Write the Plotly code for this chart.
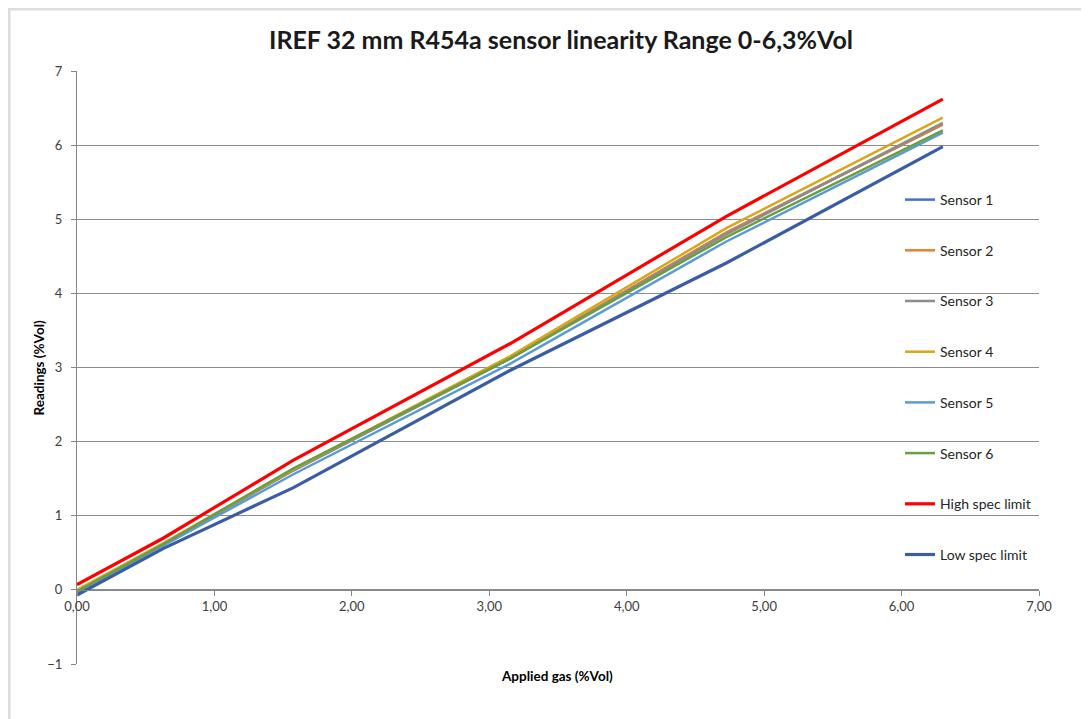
import plotly.graph_objects as go

applied = [0.0, 0.63, 1.575, 3.15, 4.725, 6.3]

sensor1 = [-0.03, 0.62, 1.62, 3.12, 4.82, 6.28]
sensor2 = [-0.02, 0.62, 1.62, 3.12, 4.82, 6.28]
sensor3 = [-0.03, 0.62, 1.61, 3.12, 4.80, 6.30]
sensor4 = [0.00, 0.63, 1.63, 3.15, 4.88, 6.37]
sensor5 = [-0.05, 0.60, 1.56, 3.05, 4.70, 6.17]
sensor6 = [-0.02, 0.62, 1.64, 3.12, 4.76, 6.20]
high_spec = [0.07, 0.70, 1.75, 3.32, 5.04, 6.62]
low_spec = [-0.07, 0.56, 1.38, 2.96, 4.41, 5.98]

names = ["Sensor 1", "Sensor 2", "Sensor 3", "Sensor 4", "Sensor 5", "Sensor 6",
         "High spec limit", "Low spec limit"]
series = [sensor1, sensor2, sensor3, sensor4, sensor5, sensor6, high_spec, low_spec]
colors = ["#4472C4", "#ED7D31", "#8C8C8C", "#DAA616", "#5B9BD5", "#6A9E3E",
          "#FF0000", "#3A5DA4"]
widths = [2.5, 2.5, 2.5, 2.5, 2.5, 2.5, 3.2, 3.2]

FONT = "Lato"
L, R, T, B = 69, 58, 63, 63
PW = 1089 - L - R
PH = 719 - T - B

fig = go.Figure()
for i, (n, s, c, w) in enumerate(zip(names, series, colors, widths)):
    fig.add_trace(go.Scatter(
        x=applied, y=s, mode="lines", name=n,
        line=dict(color=c, width=w),
        legendgroup=f"g{i}",
    ))

fig.update_layout(
    width=1089, height=719,
    margin=dict(l=L, r=R, t=T, b=B),
    paper_bgcolor="white", plot_bgcolor="white",
    title=dict(text="<b>IREF 32 mm R454a sensor linearity Range 0-6,3%Vol</b>",
               x=(561 - 8) / 1089, xanchor="center", y=1 - (40 - 8) / 719, yanchor="middle",
               font=dict(family=FONT, size=25, color="#1a1a1a")),
    font=dict(family=FONT, size=12, color="#404040"),
    showlegend=True,
    legend=dict(x=(900 - 77) / PW, y=1 - 113 / PH, xanchor="left", yanchor="top",
                bgcolor="rgba(0,0,0,0)", tracegroupgap=29.5,
                font=dict(family=FONT, size=14, color="#262626"),
                itemwidth=30),
    xaxis=dict(range=[0, 7], tickvals=[0, 1, 2, 3, 4, 5, 6, 7],
               ticktext=["0,00", "1,00", "2,00", "3,00", "4,00", "5,00", "6,00", "7,00"],
               showgrid=False, zeroline=False, showline=True, linecolor="#868686",
               linewidth=1, ticks="outside", ticklen=5, tickcolor="#868686",
               anchor="free", position=0.125,
               tickfont=dict(family=FONT, size=13, color="#404040")),
    yaxis=dict(range=[-1, 7], dtick=1, showgrid=True, gridcolor="#8C8C8C",
               gridwidth=1, zeroline=False, showline=True, linecolor="#868686",
               ticks="outside", ticklen=5, tickcolor="#868686", ticklabelstandoff=6,
               tickfont=dict(family=FONT, size=13, color="#404040")),
    annotations=[
        dict(text="<b>Applied gas (%Vol)</b>", xref="paper", yref="paper",
             x=(557 - 77) / PW, y=-12 / PH, xanchor="center", yanchor="middle", showarrow=False,
             font=dict(family=FONT, size=13.5, color="#000000")),
        dict(text="<b>Readings (%Vol)</b>", xref="paper", yref="paper",
             x=(38 - 77) / PW, y=0.5, xanchor="center", yanchor="middle", showarrow=False,
             textangle=-90, font=dict(family=FONT, size=13.5, color="#000000")),
    ],
    shapes=[
        dict(type="rect", xref="paper", yref="paper",
             x0=(1 - L) / PW, x1=(1089 - L + 20) / PW,
             y0=-(B + 20) / PH, y1=1 + (T - 1) / PH,
             line=dict(color="#DCDCDC", width=3), fillcolor="rgba(0,0,0,0)",
             layer="below"),
    ],
)

fig.write_html("out.html")
